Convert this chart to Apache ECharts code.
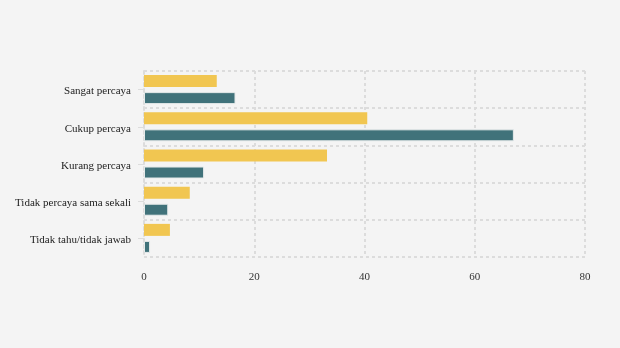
<!DOCTYPE html>
<html>
<head>
<meta charset="utf-8">
<script src="https://cdn.jsdelivr.net/npm/echarts@6/dist/echarts.min.js"></script>
<style>
  html, body { margin: 0; padding: 0; background: #f4f4f4; }
  #chart { width: 620px; height: 348px; }
</style>
</head>
<body>
<div id="chart"></div>
<script>
// Survey answers, top to bottom
const categories = [
  'Sangat percaya',
  'Cukup percaya',
  'Kurang percaya',
  'Tidak percaya sama sekali',
  'Tidak tahu/tidak jawab'
];
const seriesA = [13.2, 40.5, 33.2, 8.3, 4.7];
const seriesB = [16.6, 67.1, 10.9, 4.4, 1.1];
const xTicks = { min: 0, max: 80, interval: 20 };

const gridLine = { show: true, lineStyle: { color: '#dcdcdc', width: 2, type: [3, 3] } };
const font = '"Liberation Serif", "DejaVu Serif", serif';

const chart = echarts.init(document.getElementById('chart'), null, { renderer: 'canvas' });
chart.setOption({
  backgroundColor: '#f4f4f4',
  animation: false,
  grid: { left: 144, right: 35, top: 71, bottom: 91 },
  xAxis: {
    type: 'value',
    min: xTicks.min, max: xTicks.max, interval: xTicks.interval,
    axisLine: { show: false },
    axisTick: { show: false },
    axisLabel: { color: '#333', fontFamily: font, fontSize: 11, margin: 15 },
    splitLine: gridLine
  },
  yAxis: {
    type: 'category',
    data: categories,
    inverse: true,
    axisLine: { show: true, lineStyle: { color: '#dcdcdc', width: 2, type: [3, 3] } },
    axisTick: { show: true, alignWithLabel: true, length: 6, lineStyle: { color: '#dcdcdc', width: 1 } },
    axisLabel: {
      color: '#222', fontFamily: font, fontSize: 11, margin: 13,
      verticalAlign: 'top', lineHeight: 4
    },
    splitLine: gridLine
  },
  series: [
    {
      type: 'bar', data: seriesA, barWidth: 12, barGap: '42%',
      itemStyle: { color: '#f1c651' }
    },
    {
      type: 'bar', data: seriesB, barWidth: 12, barGap: '42%',
      itemStyle: { color: '#40727a', borderColor: '#e6eaea', borderWidth: 1 }
    }
  ]
});
</script>
</body>
</html>
